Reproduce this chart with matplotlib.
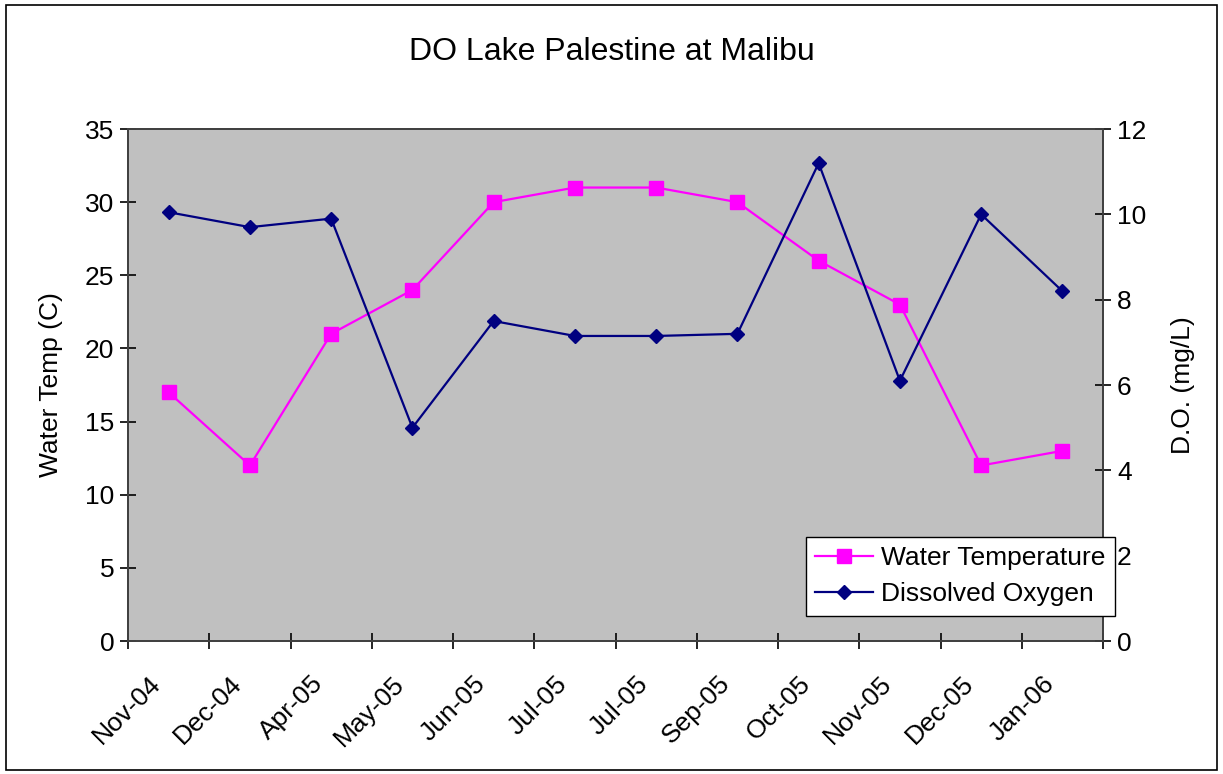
import numpy as np
import matplotlib
matplotlib.use("Agg")
import matplotlib.pyplot as plt
from matplotlib.patches import Rectangle
from matplotlib.transforms import ScaledTranslation

plt.rcParams['font.family'] = ['Liberation Sans', 'DejaVu Sans']

months = ['Nov-04', 'Dec-04', 'Apr-05', 'May-05', 'Jun-05', 'Jul-05',
          'Jul-05', 'Sep-05', 'Oct-05', 'Nov-05', 'Dec-05', 'Jan-06']
water_temp = [17, 12, 21, 24, 30, 31, 31, 30, 26, 23, 12, 13]
dissolved_o2 = [10.05, 9.7, 9.9, 5.0, 7.5, 7.15, 7.15, 7.2, 11.2, 6.1, 10.0, 8.2]

x = np.arange(len(months)) + 0.5
fs = 19

fig = plt.figure(figsize=(12.23, 7.74), dpi=100)
fig.patches.append(Rectangle((0.005, 0.005), 0.99, 0.989, transform=fig.transFigure,
                             fill=False, edgecolor='black', linewidth=1.2))
ax1 = fig.add_axes([0.1047, 0.1718, 0.7972, 0.6615])
ax2 = ax1.twinx()

ax1.set_facecolor('#C0C0C0')
l1, = ax1.plot(x, water_temp, color='#FF00FF', marker='s', markersize=10,
               linewidth=1.6, label='Water Temperature')
l2, = ax2.plot(x, dissolved_o2, color='#000080', marker='D', markersize=7.5,
               linewidth=1.6, label='Dissolved Oxygen')

ax1.set_xlim(0, len(months))
ax1.set_ylim(0, 35)
ax2.set_ylim(0, 12)
ax1.set_yticks(np.arange(0, 36, 5))
ax2.set_yticks(np.arange(0, 13, 2))

ax1.set_xticks(np.arange(len(months) + 1))
ax1.set_xticklabels([])
ax1.set_xticks(x, minor=True)
ax1.set_xticklabels(months, minor=True, rotation=45, ha='right', va='top',
                    rotation_mode='anchor')
ax1.tick_params(axis='x', which='minor', length=0, pad=22, labelsize=fs)
ax1.tick_params(axis='x', which='major', direction='inout', length=12, width=1.2)
ax1.tick_params(axis='y', direction='inout', length=12, width=1.2, labelsize=fs, pad=4)
ax2.tick_params(axis='y', direction='inout', length=12, width=1.2, labelsize=fs, pad=4)

shift = ScaledTranslation(-0.2, 0, fig.dpi_scale_trans)
for lbl in ax1.get_xticklabels(minor=True):
    lbl.set_transform(lbl.get_transform() + shift)

for ax in (ax1, ax2):
    for s in ax.spines.values():
        s.set_color('#404040')
        s.set_linewidth(1.3)

ax1.set_ylabel('Water Temp (C)', fontsize=fs, labelpad=16)
ax2.set_ylabel('D.O. (mg/L)', fontsize=fs, labelpad=18)
fig.suptitle('DO Lake Palestine at Malibu', fontsize=23, y=0.952)

leg = fig.legend(handles=[l1, l2], loc='upper left',
                 bbox_to_anchor=(0.659, 0.306), fontsize=fs, frameon=True,
                 fancybox=False, edgecolor='black', framealpha=1,
                 handlelength=2.2, handletextpad=0.3, borderpad=0.35,
                 labelspacing=0.45, borderaxespad=0)
leg.get_frame().set_linewidth(1.0)

fig.savefig('out.png', dpi=100)
